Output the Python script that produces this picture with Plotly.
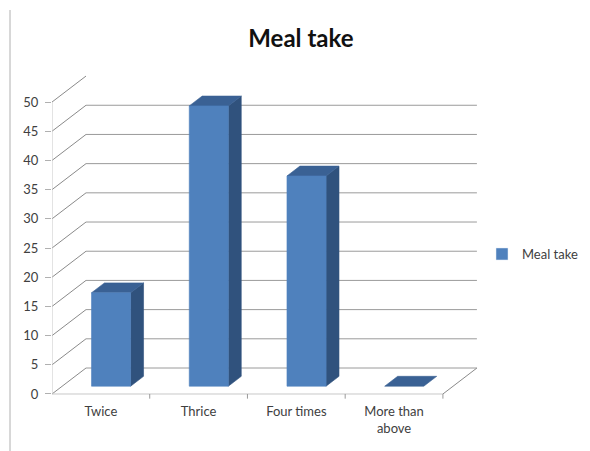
import plotly.graph_objects as go

# Chart data
categories = ["Twice", "Thrice", "Four times", "More than<br>above"]
values = [16, 48, 36, 0]
y_ticks = [0, 5, 10, 15, 20, 25, 30, 35, 40, 45, 50]
series_name = "Meal take"
chart_title = "Meal take"

# Oblique 3-D look: depth offset of the whole floor, in axis units
DX, DY = 0.348, 4.45
F1, F2 = 0.30, 0.68      # front / back depth of the columns
BW = 0.40                # column width in category units

FRONT = "#4F81BD"
SIDE = "#30527D"
TOP = "#3A6194"
GRID = "#9a9a9a"
EDGE = "#c8c8c8"
FONT = "Lato"

n = len(categories)
x_lo, x_hi = -0.5, n - 0.5
y_max = max(y_ticks)

fig = go.Figure()


def seg(xs, ys, color, width=1):
    fig.add_trace(go.Scatter(x=xs, y=ys, mode="lines", showlegend=False,
                             hoverinfo="skip",
                             line=dict(color=color, width=width)))


def face(xs, ys, color):
    fig.add_trace(go.Scatter(x=xs, y=ys, mode="lines", fill="toself",
                             fillcolor=color, showlegend=False,
                             hoverinfo="skip",
                             line=dict(color=color, width=0.6)))


# Back wall gridlines and side wall diagonals
for t in y_ticks:
    if t < y_max:
        seg([x_lo + DX, x_hi + DX], [t + DY, t + DY], GRID)
    seg([x_lo, x_lo + DX], [t, t + DY], "#8a8a8a")

# Floor: right edge, front edge, front axis line
seg([x_hi, x_hi + DX], [0, DY], "#8a8a8a")
seg([x_lo, x_hi], [0, 0], EDGE)
seg([x_lo, x_lo], [0, y_max], EDGE)

# Category separators on the floor front edge
for k in range(n):
    seg([k + 0.5, k + 0.5], [0, -0.8], "#9a9a9a")

# Columns: side, top and front faces
b = F1 * DY
ddx, ddy = (F2 - F1) * DX, (F2 - F1) * DY
for i, v in enumerate(values):
    cx = i + F1 * DX
    xl, xr = cx - BW / 2, cx + BW / 2
    if v > 0:
        face([xr, xr + ddx, xr + ddx, xr, xr],
             [b, b + ddy, b + ddy + v, b + v, b], SIDE)
    face([xl, xr, xr + ddx, xl + ddx, xl],
         [b + v, b + v, b + v + ddy, b + v + ddy, b + v], TOP)
    if v > 0:
        face([xl, xr, xr, xl, xl], [b, b, b + v, b + v, b], FRONT)

# Legend entry for the series
fig.add_trace(go.Bar(x=[None], y=[None], name=series_name,
                     marker=dict(color=FRONT), showlegend=True))

fig.update_layout(
    width=590, height=451,
    margin=dict(l=52, r=108, t=60, b=50, autoexpand=False),
    paper_bgcolor="white", plot_bgcolor="white",
    font=dict(family=FONT, size=13, color="#404040"),
    title=dict(text="<b>" + chart_title + "</b>", x=0.51, xanchor="center",
               y=1 - 39 / 451, yanchor="middle", yref="container",
               font=dict(family=FONT, size=24, color="#111111")),
    showlegend=True,
    legend=dict(x=1.0, xanchor="left", y=0.431, yanchor="middle",
                font=dict(family=FONT, size=13, color="#404040"),
                itemwidth=30, bgcolor="rgba(0,0,0,0)"),
    xaxis=dict(range=[x_lo, x_hi + 0.4], tickvals=list(range(n)),
               ticktext=categories, showgrid=False, zeroline=False,
               showline=False, ticks="", ticklabelstandoff=1,
               automargin=False,
               tickfont=dict(size=13, color="#404040"), fixedrange=True),
    yaxis=dict(range=[-1.2, 57.2], tickvals=y_ticks, showgrid=False,
               zeroline=False, showline=False, ticks="outside", ticklen=6,
               tickcolor="#b0b0b0", ticklabelstandoff=4, automargin=False,
               tickfont=dict(size=13, color="#404040"), fixedrange=True),
    shapes=[dict(type="line", xref="paper", yref="paper",
                 x0=(10 - 52) / 430, x1=(10 - 52) / 430,
                 y0=(401 - 10) / 341, y1=(401 - 451) / 341,
                 line=dict(color="#b0b0b0", width=1))],
)

fig.write_html("out.html")
